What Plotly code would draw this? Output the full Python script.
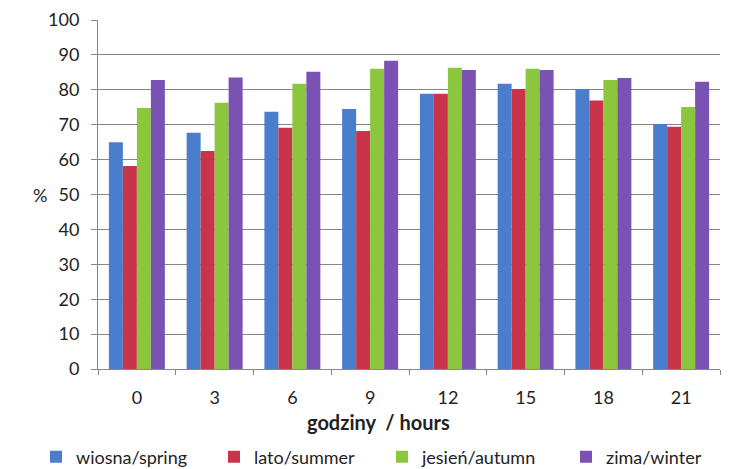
import plotly.graph_objects as go

hours = ["0", "3", "6", "9", "12", "15", "18", "21"]
spring = [65.0, 67.7, 73.7, 74.5, 78.9, 81.7, 80.2, 70.2]
summer = [58.2, 62.5, 69.1, 68.2, 78.9, 80.2, 76.9, 69.4]
autumn = [74.8, 76.3, 81.7, 86.0, 86.3, 86.0, 82.8, 75.1]
winter = [82.8, 83.5, 85.2, 88.3, 85.7, 85.7, 83.4, 82.3]
series_names = ["wiosna/spring", "lato/summer", "jesień/autumn", "zima/winter"]
colors = ["#4A7ECC", "#C8344A", "#8CC63F", "#7A52B3"]
y_ticks = list(range(0, 101, 10))

font = "Lato, 'Open Sans', sans-serif"
FS = 18
legend_ids = ["legend", "legend2", "legend3", "legend4"]
legend_px = [36, 214, 382, 566]

fig = go.Figure()
for name, vals, c, lid in zip(series_names, [spring, summer, autumn, winter], colors, legend_ids):
    fig.add_trace(go.Bar(x=hours, y=vals, name=name, legend=lid,
                         marker=dict(color=c, line=dict(width=0))))

legends = {}
for lid, px in zip(legend_ids, legend_px):
    legends[lid] = dict(orientation="h", xref="container", yref="container",
                        x=px / 733, xanchor="left", y=12 / 469, yanchor="middle",
                        font=dict(size=FS, color="#222222"), itemwidth=30,
                        bgcolor="rgba(0,0,0,0)")

fig.update_layout(
    width=733, height=469,
    margin=dict(l=98, r=13, t=20, b=100, autoexpand=False),
    paper_bgcolor="white", plot_bgcolor="white",
    barmode="group", bargap=0.28, bargroupgap=0,
    font=dict(family=font, size=FS, color="#222222"),
    showlegend=True,
    **legends,
)
fig.update_xaxes(type="category", showline=True, linecolor="#868686", linewidth=1,
                 ticks="outside", tickson="boundaries", ticklen=5, tickcolor="#868686",
                 ticklabelstandoff=12,
                 tickfont=dict(size=FS, color="#222222"), showgrid=False)
fig.update_yaxes(range=[0, 100], tickvals=y_ticks, showline=True, linecolor="#868686",
                 linewidth=1, ticks="outside", ticklen=6, tickcolor="#868686",
                 showgrid=True, gridcolor="#868686", gridwidth=1, ticklabelstandoff=8,
                 tickfont=dict(size=FS, color="#222222"), zeroline=False)
fig.add_annotation(text="%", xref="paper", yref="y", x=(40 - 98) / 622, y=50, showarrow=False,
                   font=dict(size=FS, color="#222222"), xanchor="center")
fig.add_annotation(text="<b>godziny  / hours</b>", xref="paper", yref="paper",
                   x=(378 - 98) / 622, y=-53 / 349, yanchor="middle", showarrow=False,
                   xanchor="center", font=dict(size=20, color="#222222"))
fig.write_html("out.html", config={"displayModeBar": False},
               post_script="document.body.style.margin='0';")
